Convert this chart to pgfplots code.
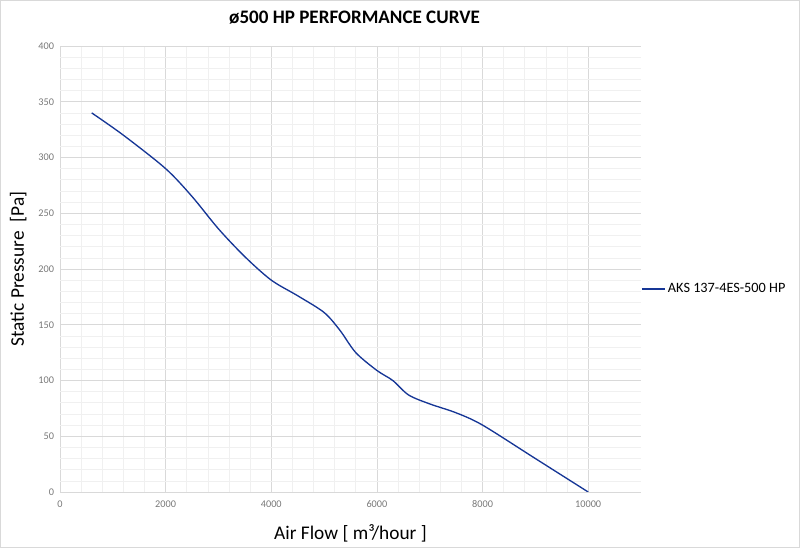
\documentclass[border=0pt]{standalone}
\usepackage{fontspec}
\setmainfont{Carlito}
\usepackage{pgfplots}
\pgfplotsset{compat=1.18}
\definecolor{curve}{RGB}{22,54,150}
\definecolor{majgrid}{RGB}{217,217,217}
\definecolor{mingrid}{RGB}{240,240,240}
\definecolor{ticktxt}{RGB}{120,120,120}
\begin{document}
\begin{tikzpicture}
% frame of the whole chart: 800x548 px at 0.75pt per px
\draw[draw=majgrid,line width=0.8pt] (0.4pt,0.4pt) rectangle (599.6pt,410.6pt);
\begin{axis}[
    at={(45pt,42pt)}, anchor=south west,
    scale only axis,
    width=435.75pt, height=334.5pt,
    xmin=0, xmax=11000, ymin=0, ymax=400,
    xtick={0,2000,4000,6000,8000,10000},
    ytick={0,50,...,400},
    scaled ticks=false,
    minor x tick num=4, minor y tick num=4,
    grid=both,
    major grid style={majgrid,line width=0.6pt},
    minor grid style={mingrid,line width=0.5pt},
    axis line style={draw=none},
    tick style={draw=none},
    ticklabel style={font=\fontsize{7.7}{9}\selectfont, text=ticktxt},
    /pgf/number format/1000 sep={},
    /pgf/number format/assume math mode=true,
    xticklabel style={yshift=-3pt},
    yticklabel style={xshift=-1pt},
    xlabel={Air Flow [ m³/hour ]},
    ylabel={Static Pressure\ \ [Pa]},
    label style={font=\fontsize{14.5}{17}\selectfont},
    xlabel style={yshift=-6pt},
    ylabel style={yshift=2pt},
    title={\textbf{ø500 HP PERFORMANCE CURVE}},
    title style={font=\fontsize{14.3}{16}\selectfont, yshift=7pt, xshift=3pt},
    legend style={at={(1.0,0.455)}, anchor=west, draw=none, fill=none,
        font=\fontsize{10.7}{12}\selectfont, inner sep=0pt},
    legend cell align=left,
    legend image code/.code={\draw[#1] (0pt,0pt) -- (17pt,0pt);},
]
\addplot[curve, line width=1pt, smooth, tension=0.5] coordinates {
    (600,340)
    (1200,320)
    (2000,290)
    (2500,265)
    (3000,236)
    (3500,211)
    (4000,190)
    (4500,176)
    (5000,161)
    (5300,145)
    (5600,125)
    (6000,109)
    (6300,100)
    (6600,87)
    (7000,79)
    (7500,71)
    (8000,60)
    (9000,30)
    (10000,0)
};
\addlegendentry{AKS 137-4ES-500 HP}
\end{axis}
\end{tikzpicture}
\end{document}
